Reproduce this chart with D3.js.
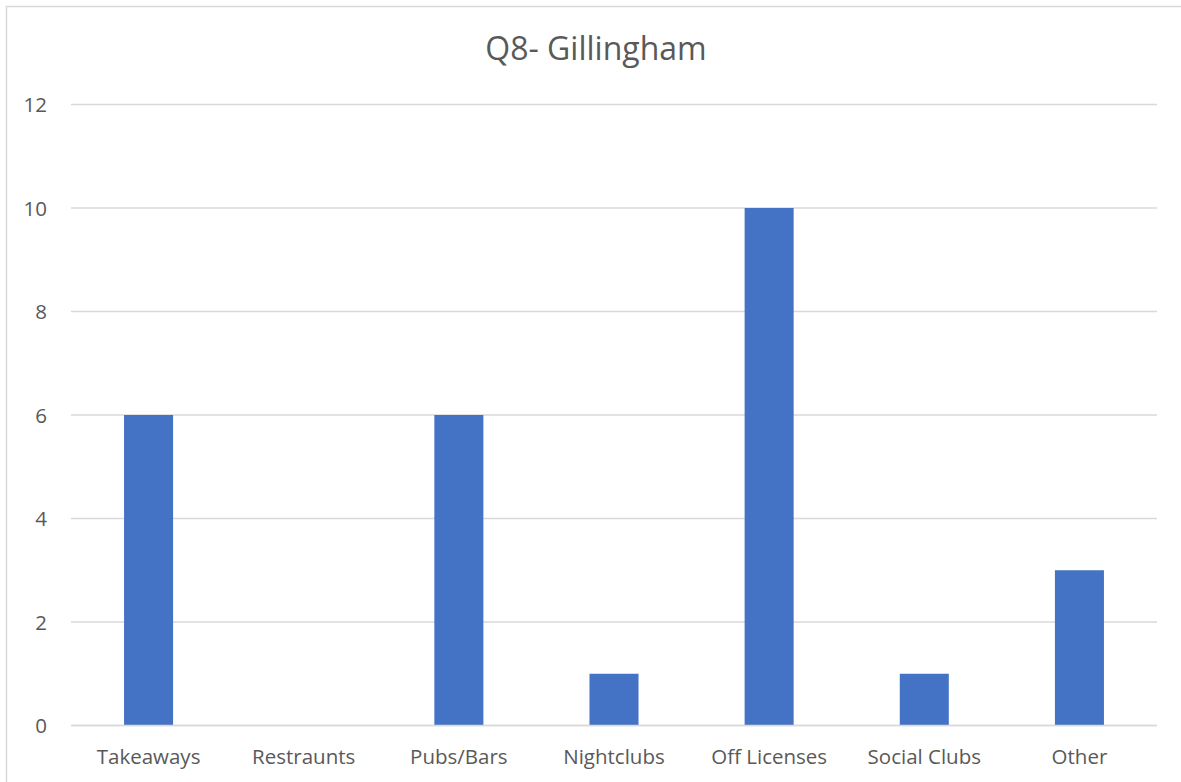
<!DOCTYPE html>
<html>
<head>
<meta charset="utf-8">
<script src="https://cdn.jsdelivr.net/npm/d3@7"></script>
<style>
  html, body { margin: 0; padding: 0; background: #fff; }
  svg { display: block; font-family: "Open Sans", Lato, sans-serif; }
</style>
</head>
<body>
<svg id="chart" width="1181" height="782"></svg>
<script>
// Venue types and response counts
const categories = ["Takeaways", "Restraunts", "Pubs/Bars", "Nightclubs", "Off Licenses", "Social Clubs", "Other"];
const counts = [6, 0, 6, 1, 10, 1, 3];
const yTicks = [0, 2, 4, 6, 8, 10, 12];
const chartTitle = "Q8- Gillingham";

const svg = d3.select("#chart");
const W = 1181, H = 782;
const plot = { left: 71, right: 1157, top: 104.5, bottom: 725.5 };
const labelFont = "\"Open Sans\", Lato, sans-serif";
const textColor = "#595959";

// Outer chart frame
svg.append("rect")
  .attr("x", 6.5).attr("y", 6.5)
  .attr("width", W + 10).attr("height", H + 10)
  .attr("fill", "#fff")
  .attr("stroke", "#d9d9d9").attr("stroke-width", 1.5);

const x = d3.scaleBand()
  .domain(categories)
  .range([plot.left, plot.right])
  .padding(0);

const y = d3.scaleLinear()
  .domain([0, 12])
  .range([plot.bottom, plot.top]);

const barW = x.step() * 0.316;

// Horizontal gridlines
svg.append("g")
  .selectAll("line")
  .data(yTicks)
  .join("line")
  .attr("x1", plot.left).attr("x2", plot.right)
  .attr("y1", d => y(d)).attr("y2", d => y(d))
  .attr("stroke", "#d9d9d9").attr("stroke-width", 1.5);

// Y axis labels
const yAxis = d3.axisLeft(y).tickValues(yTicks).tickSize(0).tickPadding(0);
const yG = svg.append("g")
  .attr("transform", `translate(${plot.left - 24},0)`)
  .call(yAxis);
yG.select(".domain").remove();
yG.selectAll("text")
  .attr("fill", textColor)
  .attr("dy", "0.36em")
  .style("font-size", "20.5px")
  .style("font-family", labelFont);

// Bars
svg.append("g")
  .selectAll("rect")
  .data(categories.map((c, i) => ({ c, v: counts[i] })))
  .join("rect")
  .attr("x", d => x(d.c) + x.bandwidth() / 2 - barW / 2)
  .attr("width", barW)
  .attr("y", d => y(d.v))
  .attr("height", d => y(0) - y(d.v))
  .attr("fill", "#4472c4");

// Baseline on top of bars
svg.append("line")
  .attr("x1", plot.left).attr("x2", plot.right)
  .attr("y1", y(0)).attr("y2", y(0))
  .attr("stroke", "#d9d9d9").attr("stroke-width", 1.5);

// Category labels
const xAxis = d3.axisBottom(x).tickSize(0).tickPadding(0);
const xG = svg.append("g")
  .attr("transform", `translate(0,${plot.bottom + 38})`)
  .call(xAxis);
xG.select(".domain").remove();
xG.selectAll("text")
  .attr("fill", textColor)
  .attr("dy", "0")
  .style("font-size", "20.5px")
  .style("font-family", labelFont);

// Title
svg.append("text")
  .attr("x", 596)
  .attr("y", 60)
  .attr("text-anchor", "middle")
  .attr("fill", textColor)
  .style("font-size", "32px")
  .style("font-family", labelFont)
  .text(chartTitle);
</script>
</body>
</html>
